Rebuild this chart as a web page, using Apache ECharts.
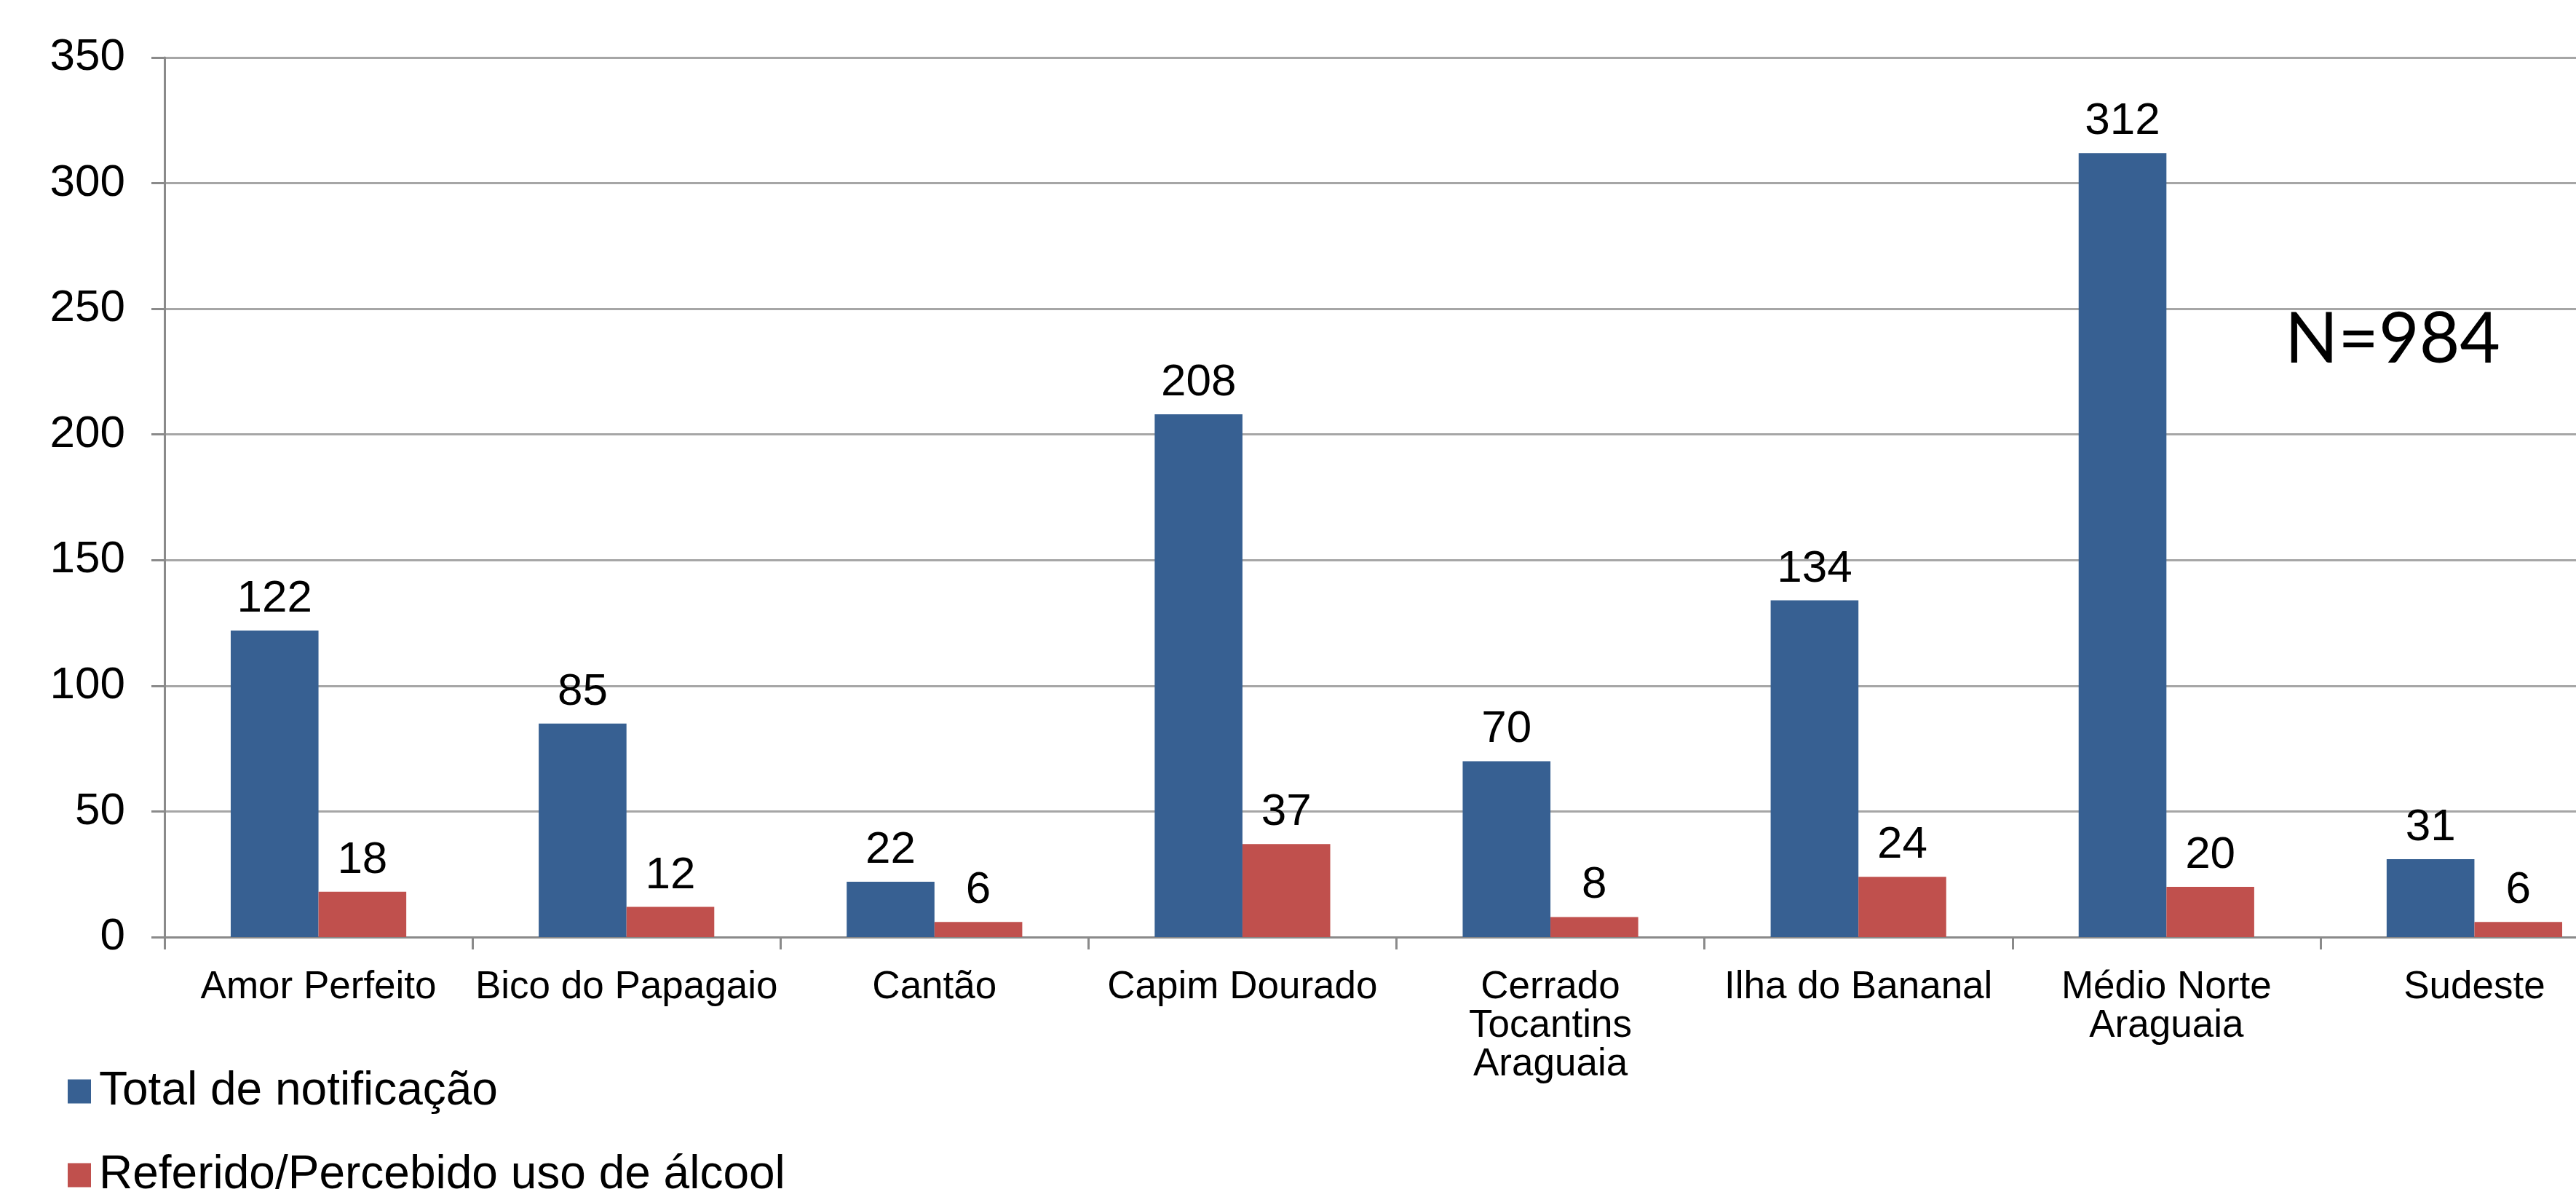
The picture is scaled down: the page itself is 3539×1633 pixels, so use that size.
<!DOCTYPE html>
<html>
<head>
<meta charset="utf-8">
<script src="https://cdn.jsdelivr.net/npm/echarts@6/dist/echarts.min.js"></script>
<style>
  html, body { margin: 0; padding: 0; background: #fff; }
  #app { width: 3539px; height: 1633px; }
</style>
</head>
<body>
<div id="app"></div>
<script>
const categories = ['Amor Perfeito', 'Bico do Papagaio', 'Cantão', 'Capim Dourado',
  'Cerrado\nTocantins\nAraguaia', 'Ilha do Bananal', 'Médio Norte\nAraguaia', 'Sudeste']
const totalNotif = [122, 85, 22, 208, 70, 134, 312, 31]
const alcool = [18, 12, 6, 37, 8, 24, 20, 6]
const seriesNames = ['Total de notificação', 'Referido/Percebido uso de álcool']
const yTicks = { min: 0, max: 350, interval: 50 }

const font = 'Liberation Sans, Arial, sans-serif'
const echart = echarts.init(document.getElementById('app'))

const dataLabel = {
  show: true,
  position: 'top',
  distance: 12,
  color: '#000',
  fontSize: 62,
  fontFamily: font
}

echart.setOption({
  animation: false,
  grid: {
    left: 226,
    top: 79,
    bottom: 346,
    right: -72,
    outerBoundsMode: 'none',
    containLabel: false
  },
  legend: {
    orient: 'vertical',
    left: 88,
    top: 1462,
    height: 400,
    itemWidth: 32,
    itemHeight: 33,
    itemGap: 51,
    icon: 'rect',
    textStyle: {
      fontSize: 64,
      lineHeight: 64,
      fontFamily: font,
      color: '#000',
      padding: [0, 0, 0, 6]
    },
    data: seriesNames
  },
  xAxis: {
    type: 'category',
    data: categories,
    axisLine: { lineStyle: { color: '#8a8a8a', width: 3 } },
    axisTick: { show: true, length: 17, lineStyle: { color: '#8a8a8a', width: 3 } },
    axisLabel: {
      interval: 0,
      margin: 43,
      color: '#000',
      fontSize: 53,
      lineHeight: 53,
      fontFamily: font
    }
  },
  yAxis: {
    type: 'value',
    min: yTicks.min,
    max: yTicks.max,
    interval: yTicks.interval,
    axisLine: { show: true, lineStyle: { color: '#8a8a8a', width: 3 } },
    axisTick: { show: true, length: 18, lineStyle: { color: '#8a8a8a', width: 3 } },
    splitLine: { lineStyle: { color: '#a6a6a6', width: 3 } },
    axisLabel: {
      margin: 54,
      color: '#000',
      fontSize: 62,
      fontFamily: font
    }
  },
  series: [
    {
      name: seriesNames[0],
      type: 'bar',
      data: totalNotif,
      barGap: '0%',
      barCategoryGap: '43%',
      itemStyle: { color: '#376092' },
      label: dataLabel
    },
    {
      name: seriesNames[1],
      type: 'bar',
      data: alcool,
      itemStyle: { color: '#c0504d' },
      label: dataLabel
    }
  ],
  graphic: [{
    type: 'text',
    x: 3287,
    y: 467,
    style: {
      text: 'N=984',
      fontSize: 96,
      fontFamily: 'Lato, Open Sans, sans-serif',
      fill: '#000',
      align: 'center',
      verticalAlign: 'middle'
    }
  }]
})
</script>
</body>
</html>
